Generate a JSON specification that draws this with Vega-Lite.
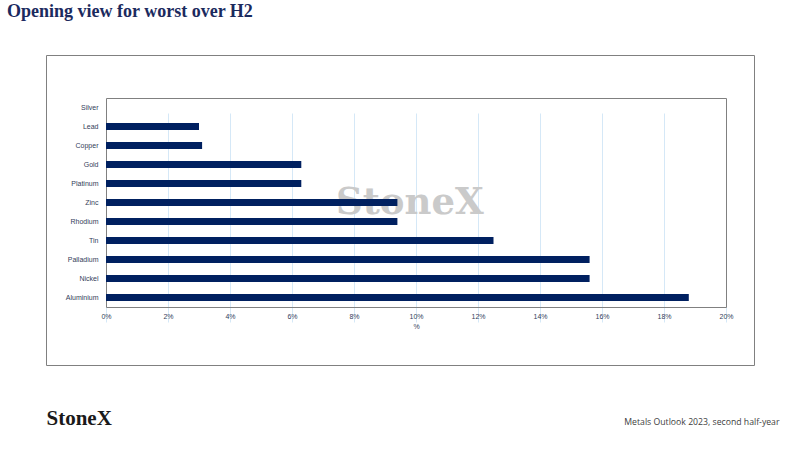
{
  "$schema": "https://vega.github.io/schema/vega-lite/v6.json",
  "width": 708,
  "height": 310,
  "autosize": {"type": "none"},
  "padding": {"left": 46, "top": 55, "right": 46, "bottom": 85},
  "background": "white",
  "title": {
    "text": "Opening view for worst over H2",
    "anchor": "start",
    "frame": "group",
    "dx": -39,
    "offset": 20,
    "baseline": "alphabetic",
    "font": "Liberation Serif",
    "fontSize": 18,
    "fontWeight": "bold",
    "color": "#1b2a5e"
  },
  "layer": [
    {
      "data": {"values": [{"brand": "StoneX"}]},
      "mark": {"type": "text", "font": "DejaVu Serif", "fontSize": 37, "fontWeight": "bold", "color": "#cacaca", "align": "center", "baseline": "middle"},
      "encoding": {
        "text": {"field": "brand", "type": "nominal"},
        "x": {
          "datum": 9.8,
          "type": "quantitative",
          "scale": {"domain": [0, 20], "range": [60, 680], "nice": false},
          "axis": {
            "orient": "top", "offset": -43, "labels": false, "ticks": false, "grid": false,
            "domain": true, "domainColor": "#808080", "domainWidth": 1,
            "title": "Metals Outlook 2023, second half-year",
            "titleX": 733, "titleY": 326, "titleAlign": "right", "titleBaseline": "alphabetic",
            "titleFont": "Open Sans", "titleFontSize": 8.7, "titleFontWeight": "normal", "titleColor": "#404040"
          }
        },
        "y": {
          "datum": "Zinc",
          "type": "nominal",
          "scale": {"domain": ["Silver", "Lead", "Copper", "Gold", "Platinum", "Zinc", "Rhodium", "Tin", "Palladium", "Nickel", "Aluminium"], "range": [43, 252], "paddingInner": 0.62, "paddingOuter": 0.31},
          "axis": {
            "orient": "right", "offset": -28, "labels": false, "ticks": false, "grid": false,
            "domain": true, "domainColor": "#808080", "domainWidth": 1,
            "title": "StoneX", "titleAngle": 0, "titleX": -680, "titleY": 369,
            "titleAlign": "left", "titleBaseline": "alphabetic",
            "titleFont": "Liberation Serif", "titleFontSize": 21, "titleFontWeight": "bold", "titleColor": "#1a1a1a"
          }
        }
      }
    },
    {
      "data": {
        "values": [
          {"metal": "Silver", "value": 0},
          {"metal": "Lead", "value": 3.0},
          {"metal": "Copper", "value": 3.1},
          {"metal": "Gold", "value": 6.3},
          {"metal": "Platinum", "value": 6.3},
          {"metal": "Zinc", "value": 9.4},
          {"metal": "Rhodium", "value": 9.4},
          {"metal": "Tin", "value": 12.5},
          {"metal": "Palladium", "value": 15.6},
          {"metal": "Nickel", "value": 15.6},
          {"metal": "Aluminium", "value": 18.8}
        ]
      },
      "mark": {"type": "bar", "color": "#002060"},
      "encoding": {
        "x": {
          "field": "value",
          "type": "quantitative",
          "scale": {"domain": [0, 20], "range": [60, 680], "nice": false},
          "axis": {
            "orient": "bottom", "offset": -58,
            "values": [0, 2, 4, 6, 8, 10, 12, 14, 16, 18, 20],
            "labelExpr": "datum.value + '%'",
            "labelFlush": false,
            "labelFont": "Liberation Sans", "labelFontSize": 7, "labelColor": "#33405a", "labelPadding": 5,
            "ticks": false, "tickSize": 0,
            "grid": true, "gridColor": "#d5e8f7", "gridWidth": 1,
            "domain": true, "domainColor": "#808080", "domainWidth": 1,
            "title": "%", "titleFont": "Liberation Sans", "titleFontSize": 7, "titleFontWeight": "normal", "titleColor": "#33405a", "titlePadding": 3
          }
        },
        "y": {
          "field": "metal",
          "type": "nominal",
          "sort": null,
          "scale": {"domain": ["Silver", "Lead", "Copper", "Gold", "Platinum", "Zinc", "Rhodium", "Tin", "Palladium", "Nickel", "Aluminium"], "range": [43, 252], "paddingInner": 0.62, "paddingOuter": 0.31},
          "axis": {
            "orient": "left", "offset": -60,
            "ticks": false, "tickSize": 0, "labelPadding": 8,
            "labelFont": "Liberation Sans", "labelFontSize": 7, "labelColor": "#33405a",
            "domain": true, "domainColor": "#808080", "domainWidth": 1,
            "grid": false, "title": null
          }
        }
      }
    }
  ],
  "resolve": {"axis": {"x": "independent", "y": "independent"}},
  "config": {
    "view": {"stroke": "#808080", "strokeWidth": 1}
  }
}
